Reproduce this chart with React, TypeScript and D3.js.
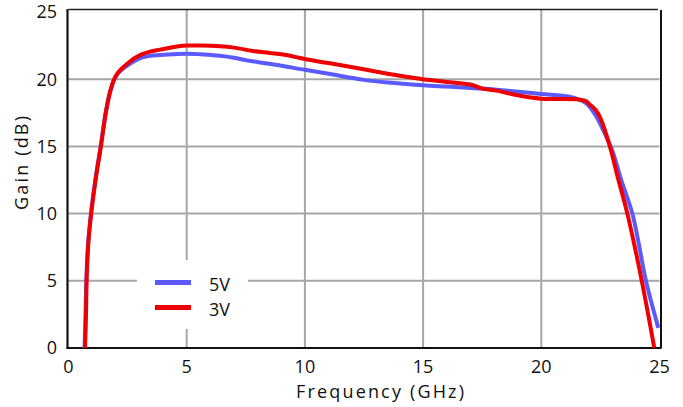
import React from "react";
import * as d3 from "d3";

const xTicks = [0, 5, 10, 15, 20, 25];
const yTicks = [0, 5, 10, 15, 20, 25];

const freq5V = [0.68, 0.72, 0.76, 0.83, 0.97, 1.16, 1.36, 1.58, 1.75, 1.93, 2.1, 2.32, 2.52, 2.74, 3.1, 3.45, 3.87, 4.4, 5.0, 5.6, 6.4, 7.0, 7.54, 8.5, 10, 11, 12.5, 13.5, 15, 16, 17, 17.5, 18.8, 20, 21.2, 21.9, 22.3, 22.65, 23.0, 23.4, 23.85, 24.15, 24.4, 24.7, 24.95];
const gain5V = [0, 2.5, 5.3, 7.8, 10.3, 12.8, 15.0, 17.6, 19.0, 19.95, 20.45, 20.8, 21.05, 21.3, 21.6, 21.75, 21.8, 21.85, 21.9, 21.85, 21.75, 21.6, 21.4, 21.15, 20.7, 20.4, 19.95, 19.75, 19.55, 19.45, 19.35, 19.3, 19.1, 18.9, 18.7, 18.2, 17.3, 16.1, 14.7, 12.4, 10.0, 7.5, 5.2, 3.1, 1.5];

const freq3V = [0.70, 0.74, 0.77, 0.84, 0.98, 1.17, 1.37, 1.59, 1.75, 1.93, 2.1, 2.32, 2.52, 2.74, 3.1, 3.45, 3.87, 4.4, 5.0, 5.6, 6.4, 7.0, 7.8, 8.5, 9.2, 10, 11, 12.6, 13.5, 15, 16, 17, 17.5, 18.1, 19.0, 20.0, 21.5, 21.9, 22.06, 22.3, 22.5, 22.9, 23.25, 23.64, 24.25, 24.78];
const gain3V = [0, 2.5, 5.3, 7.8, 10.3, 12.8, 15.0, 17.6, 19.0, 20.0, 20.5, 20.9, 21.2, 21.5, 21.85, 22.05, 22.2, 22.38, 22.5, 22.5, 22.45, 22.35, 22.1, 21.95, 21.8, 21.5, 21.2, 20.7, 20.4, 20.0, 19.8, 19.6, 19.3, 19.15, 18.8, 18.55, 18.5, 18.35, 18.1, 17.7, 17.1, 15.0, 12.6, 10.0, 5.0, 0.0];

const seriesNames = ["5V", "3V"];
const seriesColors = ["#5a5aff", "#ee0000"];

const W = 683;
const H = 407;
const left = 68.5;
const right = 659.5;
const top = 12;
const bottom = 348;
const font = "'Open Sans', 'DejaVu Sans', sans-serif";

export default function App() {
  const x = d3.scaleLinear().domain([0, 25]).range([left, right]);
  const y = d3.scaleLinear().domain([0, 25]).range([bottom, top]);

  const line = d3
    .line<[number, number]>()
    .x((d) => x(d[0]))
    .y((d) => y(d[1]))
    .curve(d3.curveCatmullRom.alpha(0.5));

  const data5 = freq5V.map((f, i) => [f, gain5V[i]] as [number, number]);
  const data3 = freq3V.map((f, i) => [f, gain3V[i]] as [number, number]);

  const legend = { x0: 137, x1: 248, y0: 260, y1: 329 };

  return (
    <svg
      width={W}
      height={H}
      style={{ position: "absolute", left: 0, top: 0, background: "#fff" }}
      fontFamily={font}
    >
      <rect x={0} y={0} width={W} height={H} fill="#fff" />
      {/* grid */}
      {xTicks.slice(1, -1).map((t) => (
        <line key={"gx" + t} x1={x(t)} x2={x(t)} y1={top - 2} y2={bottom} stroke="#a6a6a6" strokeWidth={2} />
      ))}
      {yTicks.slice(1, -1).map((t) => (
        <line key={"gy" + t} x1={left} x2={right} y1={y(t)} y2={y(t)} stroke="#a6a6a6" strokeWidth={2} />
      ))}
      {/* legend background */}
      <rect x={legend.x0} y={legend.y0} width={legend.x1 - legend.x0} height={legend.y1 - legend.y0} fill="#fff" />
      {/* frame */}
      <line x1={left} x2={right - 1.5} y1={9.5} y2={9.5} stroke="#222" strokeWidth={1.6} />
      <line x1={right + 1.5} x2={right + 1.5} y1={10} y2={bottom} stroke="#111" strokeWidth={2} />
      <line x1={left - 1} x2={left - 1} y1={9} y2={bottom + 1} stroke="#111" strokeWidth={2.2} />
      <line x1={left - 2} x2={right + 2} y1={bottom} y2={bottom} stroke="#111" strokeWidth={2.2} />
      {/* series */}
      <path d={line(data5) || ""} fill="none" stroke={seriesColors[0]} strokeWidth={4} strokeLinejoin="round" />
      <path d={line(data3) || ""} fill="none" stroke={seriesColors[1]} strokeWidth={4} strokeLinejoin="round" />
      {/* ticks */}
      {yTicks.map((t) => (
        <text key={"ty" + t} x={57} y={y(t)} dy="0.36em" textAnchor="end" fontSize={18} fill="#111">
          {t}
        </text>
      ))}
      {xTicks.map((t) => (
        <text key={"tx" + t} x={x(t)} y={373} textAnchor="middle" fontSize={18} fill="#111">
          {t}
        </text>
      ))}
      {/* axis titles */}
      <text
        transform="translate(28,163) rotate(-90)"
        textAnchor="middle"
        fontSize={18}
        fill="#111"
        textLength={94}
        lengthAdjust="spacing"
      >
        Gain (dB)
      </text>
      <text x={380} y={398} textAnchor="middle" fontSize={18} fill="#111" textLength={168} lengthAdjust="spacing">
        Frequency (GHz)
      </text>
      {/* legend */}
      {seriesNames.map((n, i) => (
        <g key={n}>
          <line x1={155} x2={191} y1={282.5 + i * 25} y2={282.5 + i * 25} stroke={seriesColors[i]} strokeWidth={5} />
          <text x={209} y={291 + i * 25} fontSize={18} fill="#111">
            {n}
          </text>
        </g>
      ))}
    </svg>
  );
}
